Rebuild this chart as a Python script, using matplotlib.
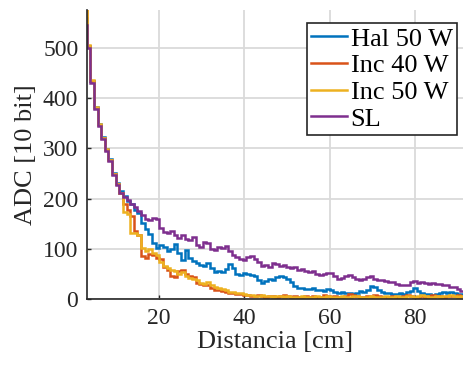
import matplotlib.pyplot as plt
import numpy as np

plt.rcParams['font.family'] = ['Liberation Serif', 'DejaVu Serif']

# distance range covered by the plot (cm); first value is the sample just left of the axis
x_left, x_right = 3.1, 91.5

series_names = ['Hal 50 W', 'Inc 40 W', 'Inc 50 W', 'SL']
series_colors = ['#0072BD', '#D95319', '#EDB120', '#7E2F8E']

hal50 = [560,
         504, 434, 382, 349, 322, 299, 278, 251, 231, 215,
         206, 196, 190, 178, 172, 152, 140, 130, 112, 102,
         108, 104, 96, 100, 110, 92, 78, 98, 82, 76,
         72, 68, 66, 72, 62, 54, 56, 54, 60, 70,
         62, 50, 48, 52, 50, 48, 46, 38, 32, 36,
         40, 38, 44, 46, 44, 40, 34, 26, 22, 22,
         20, 20, 22, 18, 18, 16, 20, 18, 14, 12,
         14, 12, 12, 10, 12, 16, 14, 18, 26, 24,
         18, 14, 12, 12, 10, 10, 12, 10, 14, 16,
         22, 16, 12, 10, 10, 8, 10, 12, 14, 12,
         14, 12, 10, 10]

inc40 = [580,
         503, 434, 380, 347, 320, 297, 276, 249, 229, 212,
         190, 178, 165, 136, 128, 86, 82, 90, 88, 82,
         80, 64, 58, 46, 44, 56, 58, 50, 46, 44,
         32, 30, 28, 28, 22, 18, 18, 16, 14, 12,
         12, 10, 10, 8, 8, 6, 7, 8, 6, 5,
         6, 7, 5, 6, 8, 6, 5, 6, 4, 5,
         6, 5, 6, 4, 5, 8, 6, 5, 6, 4,
         5, 6, 10, 8, 6, 5, 4, 6, 5, 8,
         6, 5, 4, 5, 6, 4, 5, 6, 8, 6,
         5, 4, 6, 5, 6, 8, 7, 6, 5, 6,
         7, 6, 8, 6]

inc50 = [590,
         505, 436, 382, 348, 321, 298, 277, 250, 230, 212,
         174, 170, 132, 132, 128, 102, 96, 100, 92, 88,
         74, 66, 62, 58, 56, 50, 54, 46, 42, 40,
         38, 32, 30, 34, 28, 24, 22, 20, 18, 14,
         14, 12, 12, 10, 8, 8, 7, 6, 8, 6,
         6, 5, 6, 7, 5, 6, 5, 4, 5, 6,
         5, 4, 5, 6, 4, 5, 6, 5, 4, 5,
         6, 5, 4, 6, 7, 5, 4, 5, 6, 5,
         4, 5, 6, 4, 5, 6, 5, 4, 6, 7,
         5, 6, 8, 6, 5, 4, 6, 5, 7, 6,
         8, 6, 5, 6]

sl = [545,
      500, 430, 378, 345, 318, 295, 274, 247, 227, 211,
      204, 198, 190, 183, 175, 168, 160, 158, 162, 160,
      142, 134, 132, 136, 128, 122, 128, 120, 118, 124,
      108, 104, 114, 112, 100, 98, 104, 102, 106, 96,
      88, 84, 80, 78, 84, 86, 80, 74, 66, 68,
      64, 72, 70, 66, 68, 64, 62, 64, 58, 60,
      56, 54, 56, 50, 48, 50, 52, 52, 46, 40,
      42, 46, 48, 44, 40, 38, 40, 44, 46, 40,
      38, 38, 36, 35, 34, 30, 28, 28, 28, 34,
      36, 32, 34, 32, 30, 32, 30, 30, 28, 28,
      24, 24, 20, 16]

series = [hal50, inc40, inc50, sl]

n_vis = len(sl) - 1
step = (x_right - x_left) / n_vis
edges = np.concatenate([[x_left - step], np.linspace(x_left, x_right, n_vis + 1)])

W, H = 464, 367
fig = plt.figure(figsize=(W / 100, H / 100), dpi=100)
ax = fig.add_axes([86.7 / W, 67.7 / H, (W - 86.7) / W, (357 - 67.7) / H])

for vals, name, col in zip(series, series_names, series_colors):
    ax.stairs(vals, edges, baseline=None, color=col, lw=1.8, label=name)

ax.set_xlim(x_left, x_right)
ax.set_ylim(0, 575)
ax.set_xticks([20, 40, 60, 80])
ax.set_yticks([0, 100, 200, 300, 400, 500])

ax.grid(True, color='#dadada', lw=1.3)
ax.set_axisbelow(True)
for s in ['top', 'right']:
    ax.spines[s].set_visible(False)
for s in ['left', 'bottom']:
    ax.spines[s].set_color('#262626')
    ax.spines[s].set_linewidth(1.2)
ax.tick_params(direction='in', length=3, width=1, colors='#262626',
               labelsize=17, pad=6)

ax.set_xlabel('Distancia [cm]', fontsize=19, color='#262626', labelpad=2)
ax.set_ylabel('ADC [10 bit]', fontsize=19, color='#262626', labelpad=4)

leg = ax.legend(loc='upper right', bbox_to_anchor=(456.7 / W, 1 - 23.3 / H),
                bbox_transform=fig.transFigure, fontsize=19, fancybox=False,
                edgecolor='#262626', framealpha=1, handlelength=1.36,
                handletextpad=0.15, borderpad=0.15, labelspacing=0.12,
                borderaxespad=0)
leg.get_frame().set_linewidth(1.2)
for line in leg.get_lines():
    line.set_linewidth(1.8)

fig.savefig('out.png', dpi=100)
